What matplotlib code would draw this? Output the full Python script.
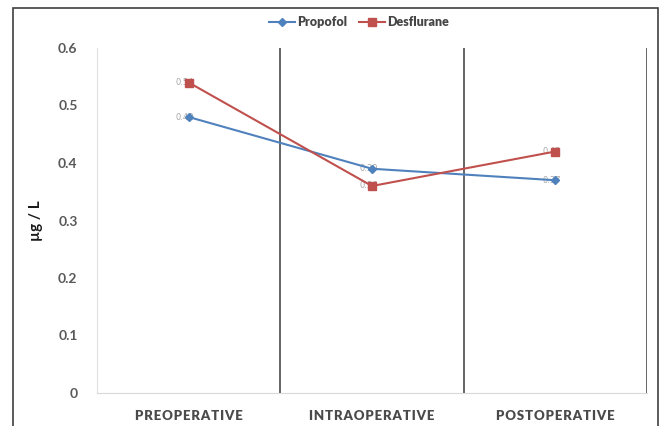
import matplotlib
matplotlib.use('Agg')
import matplotlib.pyplot as plt
from matplotlib.patches import Rectangle

# data
phases = ['PREOPERATIVE', 'INTRAOPERATIVE', 'POSTOPERATIVE']
propofol = [0.48, 0.39, 0.37]
desflurane = [0.54, 0.36, 0.42]
yticks = [0, 0.1, 0.2, 0.3, 0.4, 0.5, 0.6]

blue = '#4F81BD'
red = '#C0504D'
grey = '#595959'

fig = plt.figure(figsize=(6.59, 4.26), dpi=100)
ax = fig.add_axes([97/659, 1-393/426, 550/659, 345/426])

x = list(range(len(phases)))
ax.plot(x, propofol, color=blue, lw=1.5, marker='D', ms=4, label='Propofol', zorder=3)
ax.plot(x, desflurane, color=red, lw=1.5, marker='s', ms=6, label='Desflurane', zorder=3)

# data labels sit on top of the markers
for xi, v in zip(x, propofol):
    ax.text(xi - 0.02, v, '%.2f' % v, fontsize=6, color='#a6a6a6', ha='center', va='center', zorder=2)
for xi, v in zip(x, desflurane):
    ax.text(xi - 0.02, v, '%.2f' % v, fontsize=6, color='#a6a6a6', ha='center', va='center', zorder=2)

# separators between the phases
for b in [0.5, 1.5, 2.5]:
    ax.axvline(b, color='#3a3a3a', lw=1.1, zorder=1)

ax.set_xlim(-0.5, 2.5)
ax.set_ylim(0, 0.6)
ax.set_yticks(yticks)
ax.set_yticklabels(['0', '0.1', '0.2', '0.3', '0.4', '0.5', '0.6'],
                   fontsize=10, fontweight='bold', color=grey, family='Lato')
ax.set_xticks(x)
ax.set_xticklabels(['\u200a'.join(p) for p in phases], fontsize=9.5, fontweight='heavy',
                   color='#4a4a4a', family=['Lato', 'DejaVu Sans'])
ax.tick_params(length=0, axis='y', pad=14)
ax.tick_params(length=0, axis='x', pad=12)

for s in ['top', 'right']:
    ax.spines[s].set_visible(False)
ax.spines['left'].set_color('#e0e0e0')
ax.spines['bottom'].set_color('#d9d9d9')

ax.set_ylabel('\u00b5g / L', fontsize=11, fontweight='bold', color='#1a1a1a', family='Lato', labelpad=11)

leg = fig.legend(loc='center', bbox_to_anchor=(359/659, 1-22/426), ncol=2, frameon=False,
                 prop={'family': 'Lato', 'weight': 'heavy', 'size': 9}, handlelength=2.1,
                 columnspacing=0.9, handletextpad=0.2)
for t in leg.get_texts():
    t.set_color('#454545')

# outer frame around the chart
fig.patches.append(Rectangle((13/659, -0.05), 645/659, 1.05 - 8/426, transform=fig.transFigure,
                             fill=False, edgecolor='#404040', lw=1.2))

fig.savefig('out.png', dpi=100)
